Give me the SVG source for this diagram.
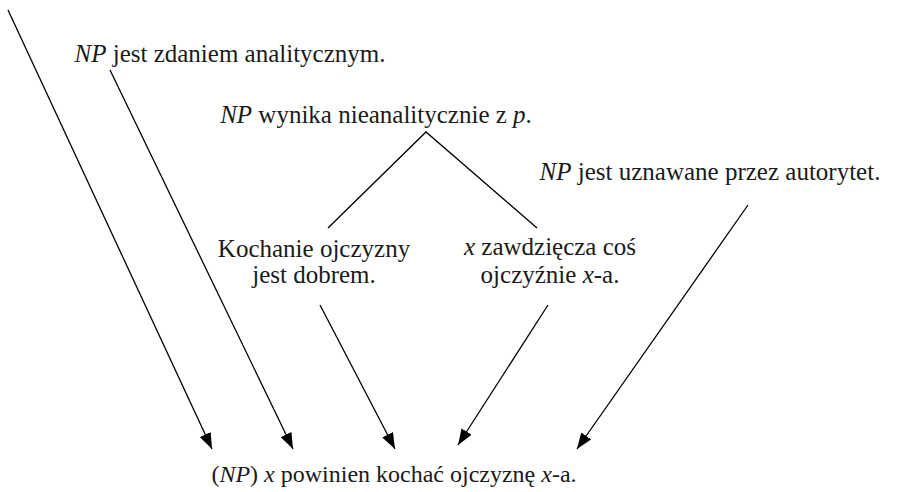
<svg xmlns="http://www.w3.org/2000/svg" width="897" height="492" viewBox="0 0 897 492">
<style>
text{font-size:25px;fill:#1a1a1a;text-anchor:middle}
.i{font-style:italic}
.ln{stroke:#000;stroke-width:1.3;fill:none}
</style>
<defs>
<marker id="ah" markerWidth="16" markerHeight="12" refX="16" refY="6" orient="auto" markerUnits="userSpaceOnUse">
<path d="M0,0 L16,6 L0,12 Z" fill="#000"/>
</marker>
</defs>
<rect width="897" height="492" fill="#fff"/>
<g font-family="'Liberation Serif', 'DejaVu Serif', serif">
<g id="n1"><text x="230" y="62"><tspan class="i">NP</tspan> jest zdaniem analitycznym.</text></g>
<g id="n2"><text x="376" y="123"><tspan class="i">NP</tspan> wynika nieanalitycznie z <tspan class="i">p</tspan>.</text></g>
<g id="n3"><text x="710" y="180"><tspan class="i">NP</tspan> jest uznawane przez autorytet.</text></g>
<g id="n4"><text x="314" y="257">Kochanie ojczyzny</text><text x="314" y="283">jest dobrem.</text></g>
<g id="n5"><text x="550" y="255"><tspan class="i">x</tspan> zawdzięcza coś</text><text x="550" y="283">ojczyźnie <tspan class="i">x</tspan>-a.</text></g>
<g id="n6"><text x="394" y="482" style="font-size:24px">(<tspan class="i">NP</tspan>) <tspan class="i">x</tspan> powinien kochać ojczyznę <tspan class="i">x</tspan>-a.</text></g>
</g>
<g id="connectors">
<path class="ln" d="M328,228 L426,132 L537,228"/>
<line class="ln" x1="8" y1="10" x2="212" y2="449" marker-end="url(#ah)"/>
<line class="ln" x1="110" y1="70" x2="293" y2="449" marker-end="url(#ah)"/>
<line class="ln" x1="320" y1="305" x2="395" y2="449" marker-end="url(#ah)"/>
<line class="ln" x1="548" y1="305" x2="458" y2="445" marker-end="url(#ah)"/>
<line class="ln" x1="748" y1="205" x2="577" y2="449" marker-end="url(#ah)"/>
</g>
</svg>
